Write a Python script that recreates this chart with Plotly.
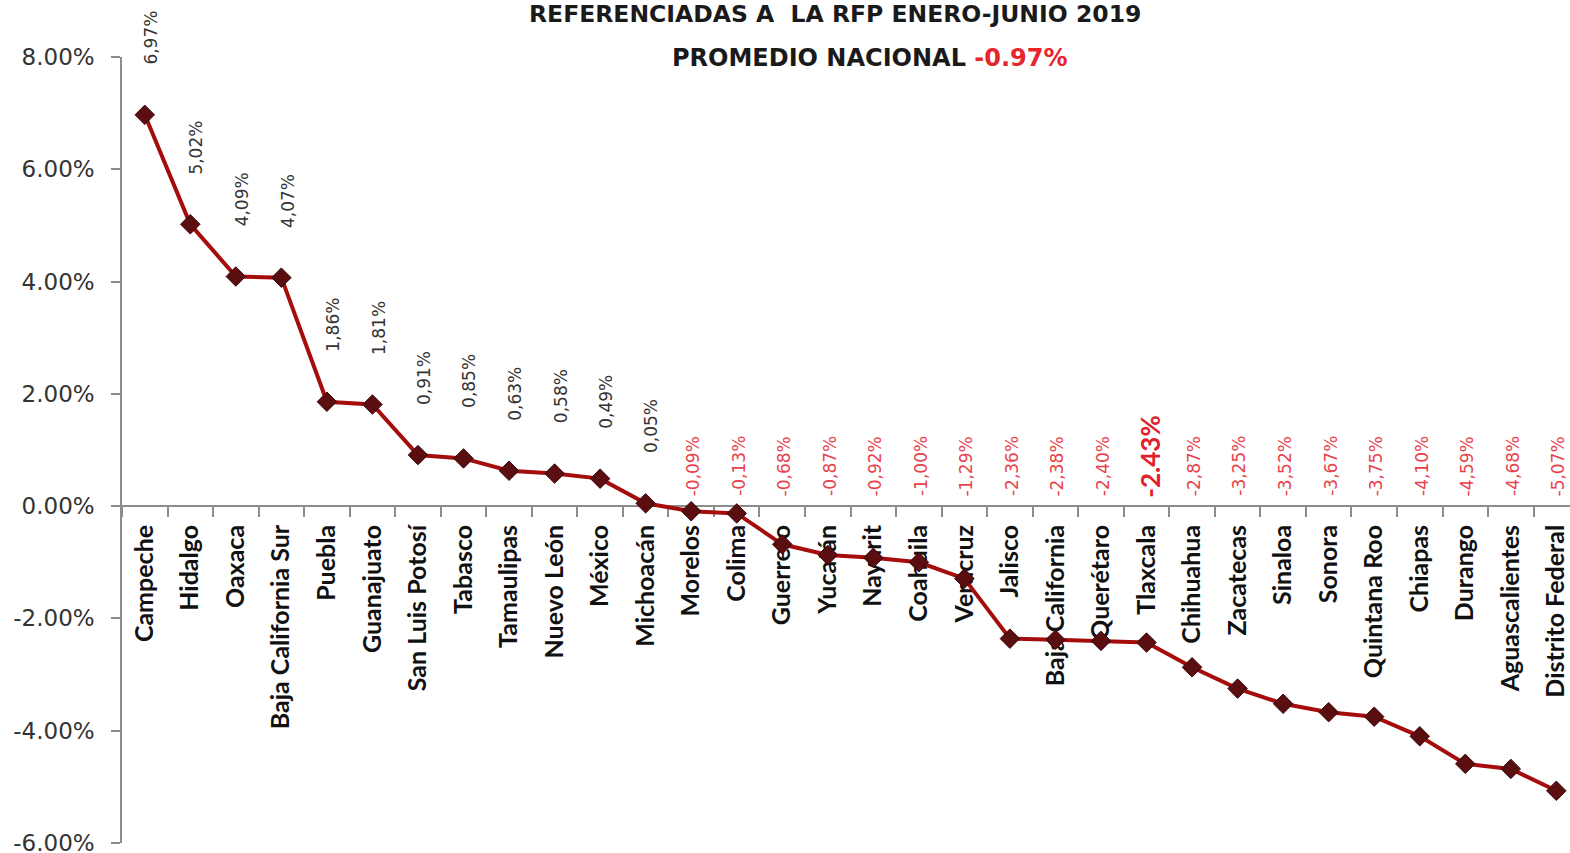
import plotly.graph_objects as go

estados = ["Campeche", "Hidalgo", "Oaxaca", "Baja California Sur", "Puebla", "Guanajuato",
           "San Luis Potosí", "Tabasco", "Tamaulipas", "Nuevo León", "México", "Michoacán",
           "Morelos", "Colima", "Guerrero", "Yucatán", "Nayarit", "Coahuila", "Veracruz",
           "Jalisco", "Baja California", "Querétaro", "Tlaxcala", "Chihuahua", "Zacatecas",
           "Sinaloa", "Sonora", "Quintana Roo", "Chiapas", "Durango", "Aguascalientes",
           "Distrito Federal"]
variacion = [6.97, 5.02, 4.09, 4.07, 1.86, 1.81, 0.91, 0.85, 0.63, 0.58, 0.49, 0.05,
             -0.09, -0.13, -0.68, -0.87, -0.92, -1.00, -1.29, -2.36, -2.38, -2.40, -2.43,
             -2.87, -3.25, -3.52, -3.67, -3.75, -4.10, -4.59, -4.68, -5.07]
destacado = "Tlaxcala"
promedio_nacional = -0.97
y_ticks = [8, 6, 4, 2, 0, -2, -4, -6]

W, H = 1570, 853
ML, MT, MB, MR = 122, 57, 10, 0
PW = W - ML - MR
PH = H - MT - MB

fig = go.Figure()
fig.add_trace(go.Scatter(
    x=estados, y=variacion, mode="lines+markers",
    line=dict(color="#a50d0d", width=4),
    marker=dict(symbol="diamond", size=15, color="#5a0e10",
                line=dict(color="#3a0808", width=1)),
    hoverinfo="x+y", showlegend=False,
))

annotations = []
for est, v in zip(estados, variacion):
    txt = f"{v:.2f}%".replace(".", ",")
    if est == destacado:
        annotations.append(dict(
            x=est, y=0, xref="x", yref="y", text=f"{v:.2f}%", textangle=-90,
            showarrow=False, yanchor="bottom", xanchor="center", yshift=6, xshift=4,
            font=dict(family="Lato, sans-serif", size=26, color="#e0202a", weight="bold")))
    elif v >= 0:
        annotations.append(dict(
            x=est, y=v, xref="x", yref="y", text=txt, textangle=-90,
            showarrow=False, yanchor="bottom", xanchor="center", yshift=48, xshift=6,
            font=dict(family="DejaVu Sans, sans-serif", size=17, color="#333333")))
    else:
        annotations.append(dict(
            x=est, y=0, xref="x", yref="y", text=txt, textangle=-90,
            showarrow=False, yanchor="bottom", xanchor="center", yshift=8, xshift=2,
            font=dict(family="DejaVu Sans, sans-serif", size=17, color="#e8424c")))

annotations.append(dict(
    x=(835 - ML) / PW, y=1, xref="paper", yref="paper", yshift=43,
    xanchor="center", yanchor="middle",
    text="<b>REFERENCIADAS A  LA RFP ENERO-JUNIO 2019</b>", showarrow=False,
    font=dict(family="DejaVu Sans, sans-serif", size=23.5, color="#1a1a1a")))
annotations.append(dict(
    x=(870 - ML) / PW, y=1, xref="paper", yref="paper", yshift=-1,
    xanchor="center", yanchor="middle",
    text=f"<b>PROMEDIO NACIONAL <span style='color:#e8242c'>{promedio_nacional:.2f}%</span></b>",
    showarrow=False,
    font=dict(family="DejaVu Sans, sans-serif", size=24, color="#1a1a1a")))

zero_pos = (0 - min(y_ticks)) / (max(y_ticks) - min(y_ticks))

fig.update_layout(
    width=W, height=H,
    margin=dict(l=ML, r=MR, t=MT, b=MB, autoexpand=False),
    plot_bgcolor="white", paper_bgcolor="white",
    annotations=annotations,
    xaxis=dict(
        type="category", range=[-0.5, 31.3], anchor="free", position=zero_pos,
        showline=True, linecolor="#8c8c8c", linewidth=1.5,
        ticks="outside", tickson="boundaries", ticklen=10, tickcolor="#8c8c8c", tickwidth=1.5,
        tickangle=-90, showgrid=False, zeroline=False, layer="below traces",
        ticklabelstandoff=8, automargin=False,
        tickfont=dict(family="Lato, sans-serif", size=25, color="#111111", weight="bold"),
    ),
    yaxis=dict(
        range=[min(y_ticks), max(y_ticks)], tickvals=y_ticks,
        ticktext=[f"{t:.2f}%" for t in y_ticks],
        showline=True, linecolor="#8c8c8c", linewidth=1.5,
        ticks="outside", ticklen=9, tickcolor="#8c8c8c", tickwidth=1.5,
        showgrid=False, zeroline=False, ticklabelstandoff=12,
        ticklabeloverflow="allow", automargin=False,
        tickfont=dict(family="DejaVu Sans, sans-serif", size=23, color="#333333"),
    ),
)

fig.write_html("out.html", config={"displayModeBar": False},
               post_script="document.body.style.margin='0px';")
